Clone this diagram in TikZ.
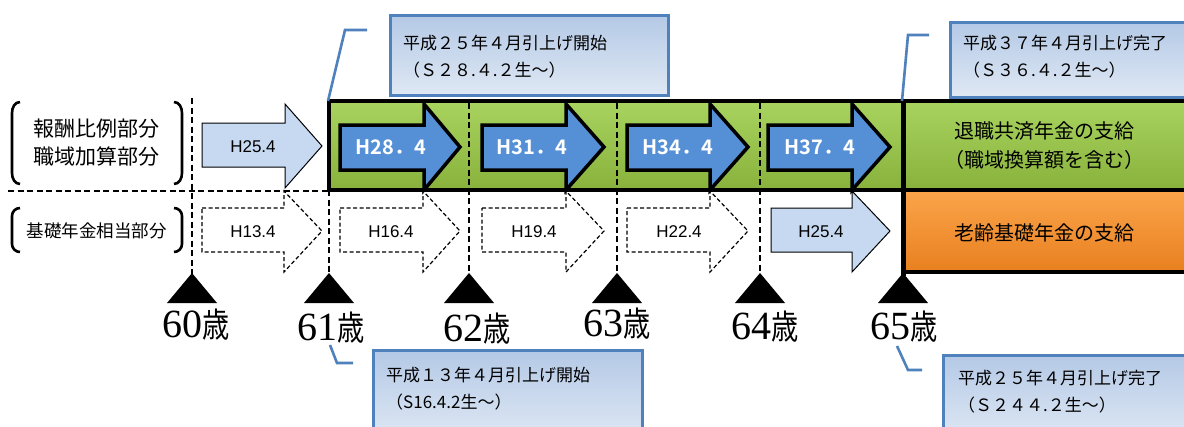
\documentclass[tikz,border=0pt]{standalone}
\usepackage{fontspec}
\usepackage{graphicx}
\setmainfont{Noto Sans CJK JP}
\newfontfamily\arialf{Liberation Sans}
\newfontfamily\timesf{Liberation Serif}
\newfontfamily\jpbold{Noto Sans CJK JP Bold}
\definecolor{arrowblue}{HTML}{5590D6}
\definecolor{lightblue}{HTML}{C6D9F1}
\definecolor{greentop}{HTML}{A8D35E}
\definecolor{greenbot}{HTML}{88B23C}
\definecolor{orangetop}{HTML}{FBA44A}
\definecolor{orangebot}{HTML}{E8801F}
\definecolor{calloutborder}{HTML}{4F81BD}
\definecolor{callouttop}{HTML}{B4C9E6}
\definecolor{calloutbot}{HTML}{DFE8F4}
\newcommand\agelabel[1]{{\fontsize{40}{40}\timesf #1}{\fontsize{34}{34}\selectfont\scalebox{0.8}[1]{歳}}}
\begin{document}
\begin{tikzpicture}[x=1pt,y=-1pt,
  dline/.style={black,line width=1.6pt,dash pattern=on 6pt off 3.5pt},
  bluearrow/.style={fill=arrowblue,draw=black,line width=3.5pt,line join=miter},
  lightarrow/.style={fill=lightblue,draw=black,line width=1pt,line join=miter},
  dasharrow/.style={fill=white,draw=black,line width=1.2pt,dash pattern=on 4pt off 2.5pt},
  bluelab/.style={text=white,font=\jpbold\fontsize{20}{20}\selectfont,inner sep=0pt},
  arrowlab/.style={text=black,font=\arialf\fontsize{17}{17}\selectfont,inner sep=0pt},
  bracketline/.style={black,line width=2.6pt},
  callout/.style={draw=calloutborder,line width=3pt,top color=callouttop,bottom color=calloutbot},
  callouttext/.style={anchor=north west,align=left,inner sep=0pt,font=\fontsize{17}{27}\selectfont},
  leader/.style={calloutborder,line width=2.6pt},
  tri/.style={fill=black},
  agelab/.style={inner sep=0pt}]
\useasboundingbox (0,0) rectangle (1184,426);
\clip (0,0) rectangle (1184,426);
\fill[white] (0,0) rectangle (1184,426);

% left labels with brackets
\draw[bracketline] (20,102) to[out=180,in=90] (12,113) -- (12,173) to[out=-90,in=180] (20,184);
\draw[bracketline] (174,102) to[out=0,in=90] (182,113) -- (182,173) to[out=-90,in=0] (174,184);
\node[align=center,font=\fontsize{21}{28}\selectfont,inner sep=0pt] (lab1) at (97,143) {報酬比例部分\\職域加算部分};
\draw[bracketline] (20,208) to[out=180,in=90] (12,216) -- (12,244) to[out=-90,in=180] (20,252);
\draw[bracketline] (174,208) to[out=0,in=90] (182,216) -- (182,244) to[out=-90,in=0] (174,252);
\node[font=\fontsize{17.5}{20}\selectfont,inner sep=0pt] (lab2) at (97,231) {基礎年金相当部分};

% green band
\shade[top color=greentop,bottom color=greenbot] (329,101) rectangle (903,190);
\shade[top color=greentop,bottom color=greenbot] (903,101) rectangle (1190,190);
\shade[top color=orangetop,bottom color=orangebot] (903,191) rectangle (1190,272);

% dashed guide lines
\coordinate (v60) at (192,98);
\coordinate (v61) at (329,190);
\coordinate (v62) at (469,103);
\coordinate (v63) at (617,103);
\coordinate (v64) at (760,103);
\coordinate (v65) at (903,99);
\draw[dline] (v60) -- (192,274);
\draw[dline] (v61) -- (329,274);
\draw[dline] (v62) -- (469,274);
\draw[dline] (v63) -- (617,274);
\draw[dline] (v64) -- (760,274);
\draw[dline] (8,191) -- (329,191);

% blue arrows in green band
\foreach \a/\b/\t/\n/\lab/\cx in {340/424/460/a1/H28．4/391, 482/566/604/a2/H31．4/532, 627/710/748/a3/H34．4/678, 768/852/890/a4/H37．4/820} {
  \draw[bluearrow] (\a,125) -- (\b,125) -- (\b,104) -- (\t,147) -- (\b,190) -- (\b,170) -- (\a,170) -- cycle;
  \node[bluelab] (\n) at (\cx,147) {\lab};
}
% upper light arrow
\draw[lightarrow] (202,123) -- (285,123) -- (285,104) -- (322,146) -- (285,188) -- (285,167) -- (202,167) -- cycle;
\node[arrowlab] (u0) at (253,147) {H25.4};

% lower dashed arrows
\foreach \a/\b/\t/\n/\lab/\cx in {202/284/322/b0/H13.4/253, 340/423/460/b1/H16.4/391, 482/566/604/b2/H19.4/534, 627/710/748/b3/H22.4/679} {
  \draw[dasharrow] (\a,208) -- (\b,208) -- (\b,191) -- (\t,231) -- (\b,272) -- (\b,252) -- (\a,252) -- cycle;
  \node[arrowlab] (\n) at (\cx,232) {\lab};
}
\draw[lightarrow] (771,208) -- (852,208) -- (852,191) -- (890,231) -- (852,272) -- (852,252) -- (771,252) -- cycle;
\node[arrowlab] (b4) at (821,232) {H25.4};

% borders of band and right boxes
\draw[black,line width=4pt] (329,101) rectangle (903,190);
\draw[black,line width=4pt] (903,101) -- (1190,101);
\draw[black,line width=4pt] (903,190) -- (1190,190);
\draw[black,line width=4pt] (903,272) -- (1190,272);
\draw[black,line width=5pt] (v65) -- (903,276);
\node[align=center,font=\fontsize{20}{29}\selectfont,inner sep=0pt] (ret) at (1044,146) {退職共済年金の支給\\（職域換算額を含む）};
\node[font=\fontsize{20}{22}\selectfont,inner sep=0pt] (old) at (1044,233) {老齢基礎年金の支給};

% triangles and ages
\foreach \x/\n in {192/t60,329/t61,469/t62,617/t63,760/t64,903/t65} {
  \fill[tri] (\x-25,303) -- (\x,273) -- (\x+25,303) -- cycle;
  \coordinate (\n) at (\x,303);
}
\node[agelab] (age60) at (196,325) {\agelabel{60}};
\node[agelab] (age61) at (331,328) {\agelabel{61}};
\node[agelab] (age62) at (477,329) {\agelabel{62}};
\node[agelab] (age63) at (617,324) {\agelabel{63}};
\node[agelab] (age64) at (765,327) {\agelabel{64}};
\node[agelab] (age65) at (904,327) {\agelabel{65}};

% callouts
\draw[callout] (390,15) rectangle (668,95);
\node[callouttext] (c1) at (403,35) {平成２５年４月引上げ開始\\（Ｓ２８.４.２生～）};
\draw[callout] (950,22) rectangle (1192,97);
\node[callouttext] (c2) at (963,35) {平成３７年４月引上げ完了\\（Ｓ３６.４.２生～）};
\draw[callout] (373,350) rectangle (642,440);
\node[callouttext] (c3) at (386,367) {平成１３年４月引上げ開始\\（S16.4.2生～）};
\draw[callout] (943,355) rectangle (1192,440);
\node[callouttext] (c4) at (958,370) {平成２５年４月引上げ完了\\（Ｓ２４４.２生～）};

% leader lines
\coordinate (l1a) at (328,101);
\coordinate (l1b) at (345,30);
\coordinate (l1c) at (367,30);
\draw[leader] (l1a) -- (l1b) -- (l1c);
\coordinate (l2a) at (902,101);
\coordinate (l2b) at (908,35);
\coordinate (l2c) at (929,35);
\draw[leader] (l2a) -- (l2b) -- (l2c);
\coordinate (l3a) at (330,345);
\coordinate (l3b) at (337,363);
\coordinate (l3c) at (353,363);
\draw[leader] (l3a) -- (l3b) -- (l3c);
\coordinate (l4a) at (897,346);
\coordinate (l4b) at (908,370);
\coordinate (l4c) at (922,370);
\draw[leader] (l4a) -- (l4b) -- (l4c);
\end{tikzpicture}
\end{document}
